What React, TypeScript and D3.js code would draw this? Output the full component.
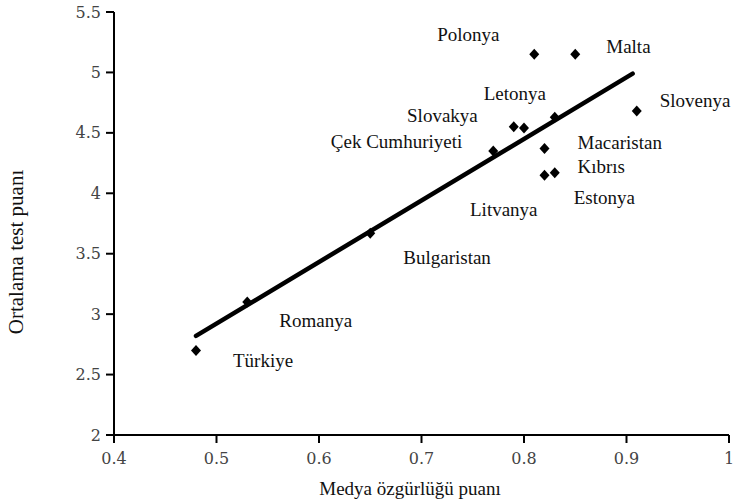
import React from "react";
import * as d3 from "d3";

const countries = ["Türkiye", "Romanya", "Bulgaristan", "Çek Cumhuriyeti", "Slovakya", "Litvanya", "Letonya", "Polonya", "Malta", "Slovenya", "Macaristan", "Kıbrıs", "Estonya"];
const mediaFreedom = [0.48, 0.53, 0.65, 0.77, 0.79, 0.80, 0.83, 0.81, 0.85, 0.91, 0.82, 0.82, 0.83];
const testScore = [2.70, 3.10, 3.67, 4.35, 4.55, 4.54, 4.63, 5.15, 5.15, 4.68, 4.37, 4.15, 4.17];
const trendX = [0.48, 0.906];
const trendY = [2.82, 4.99];
const xTicks = [0.4, 0.5, 0.6, 0.7, 0.8, 0.9, 1];
const yTicks = [2, 2.5, 3, 3.5, 4, 4.5, 5, 5.5];

// label placement (pixels relative to the point)
const labelPlace: Record<string, { dx: number; dy: number; anchor: string }> = {
  "Türkiye": { dx: 37, dy: 10, anchor: "start" },
  "Romanya": { dx: 32, dy: 18, anchor: "start" },
  "Bulgaristan": { dx: 33, dy: 24, anchor: "start" },
  "Çek Cumhuriyeti": { dx: -31, dy: -9, anchor: "end" },
  "Slovakya": { dx: -36, dy: -11, anchor: "end" },
  "Litvanya": { dx: -54, dy: 81, anchor: "start" },
  "Letonya": { dx: -71, dy: -24, anchor: "start" },
  "Polonya": { dx: -97, dy: -20, anchor: "start" },
  "Malta": { dx: 31, dy: -8, anchor: "start" },
  "Slovenya": { dx: 23, dy: -11, anchor: "start" },
  "Macaristan": { dx: 33, dy: -6, anchor: "start" },
  "Kıbrıs": { dx: 33, dy: -9, anchor: "start" },
  "Estonya": { dx: 19, dy: 25, anchor: "start" },
};

const W = 733, H = 501;
const x = d3.scaleLinear().domain([0.4, 1]).range([114, 729]);
const y = d3.scaleLinear().domain([2, 5.5]).range([435, 12]);

const serif = "'Liberation Serif', 'Times New Roman', serif";
const tickFont = "'DejaVu Serif', serif";

export default function App() {
  const line = d3.line<number>().x((d, i) => x(trendX[i])).y((d, i) => y(trendY[i]));
  const diamond = (cx: number, cy: number) => `M${cx},${cy - 5.5}L${cx + 5},${cy}L${cx},${cy + 5.5}L${cx - 5},${cy}Z`;
  return (
    <svg width={W} height={H} style={{ position: "absolute", left: 0, top: 0, background: "#fff" }}>
      {/* axes */}
      <line x1={x(0.4)} x2={x(1)} y1={y(2)} y2={y(2)} stroke="#000" strokeWidth={2} />
      <line x1={x(0.4)} x2={x(0.4)} y1={y(2)} y2={y(5.5)} stroke="#000" strokeWidth={2} />
      {xTicks.map((t) => (
        <g key={"x" + t}>
          <line x1={x(t)} x2={x(t)} y1={y(2)} y2={y(2) + 8} stroke="#000" strokeWidth={2} />
          <text x={x(t)} y={y(2) + 23} textAnchor="middle" dominantBaseline="central" fontFamily={tickFont} fontSize={16} fill="#444">{String(t)}</text>
        </g>
      ))}
      {yTicks.map((t) => (
        <g key={"y" + t}>
          <line x1={x(0.4) - 8} x2={x(0.4)} y1={y(t)} y2={y(t)} stroke="#000" strokeWidth={2} />
          <text x={x(0.4) - 13} y={y(t)} textAnchor="end" dominantBaseline="central" fontFamily={tickFont} fontSize={16} fill="#444">{String(t)}</text>
        </g>
      ))}
      <text x={410} y={488} textAnchor="middle" dominantBaseline="central" fontFamily={serif} fontSize={19} fill="#111">Medya özgürlüğü puanı</text>
      <text transform={`translate(16,${252}) rotate(-90)`} textAnchor="middle" dominantBaseline="central" fontFamily={serif} fontSize={21} fill="#111">Ortalama test puanı</text>
      {/* trend line */}
      <path d={line(trendX) || ""} stroke="#000" strokeWidth={4.5} fill="none" strokeLinecap="round" />
      {/* points */}
      {countries.map((c, i) => (
        <path key={c} d={diamond(x(mediaFreedom[i]), y(testScore[i]))} fill="#000" />
      ))}
      {countries.map((c, i) => {
        const p = labelPlace[c];
        return (
          <text key={"l" + c} x={x(mediaFreedom[i]) + p.dx} y={y(testScore[i]) + p.dy} textAnchor={p.anchor} dominantBaseline="central" fontFamily={serif} fontSize={19} fill="#111">{c}</text>
        );
      })}
    </svg>
  );
}
